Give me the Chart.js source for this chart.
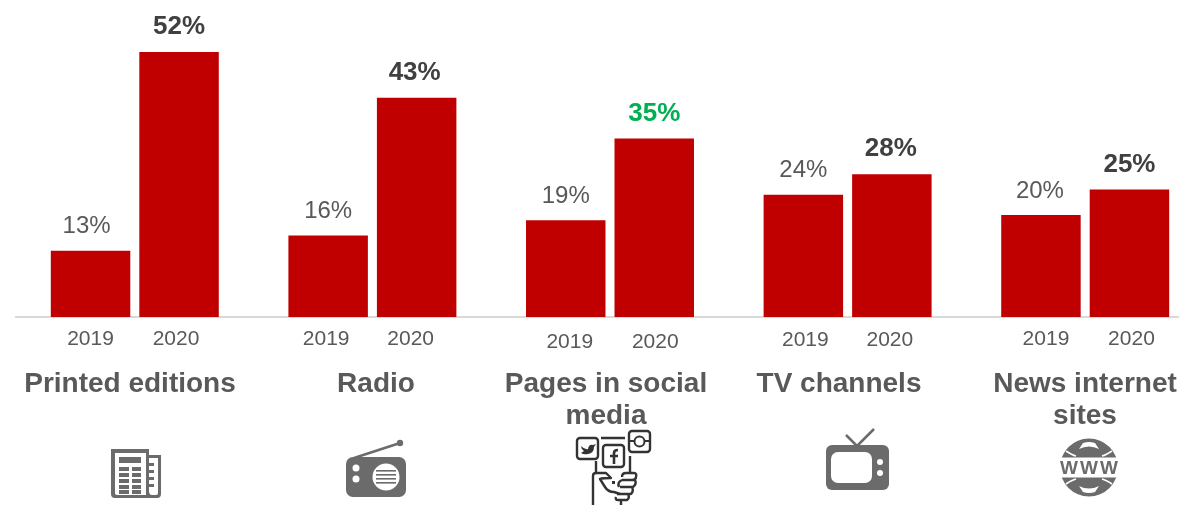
<!DOCTYPE html>
<html>
<head>
<meta charset="utf-8">
<script src="https://cdn.jsdelivr.net/npm/chart.js@4/dist/chart.umd.min.js"></script>
<style>
html, body { margin: 0; padding: 0; background: #fff; overflow: hidden; }
#wrap { width: 1179px; height: 509px; overflow: hidden; }
</style>
</head>
<body>
<div id="wrap"><canvas id="chart" width="1204" height="509"></canvas></div>
<script>
const categories = ['Printed editions', 'Radio', 'Pages in social media', 'TV channels', 'News internet sites'];
const years = ['2019', '2020'];
const values2019 = [13, 16, 19, 24, 20];
const values2020 = [52, 43, 35, 28, 25];

const BAR_RED = '#c00000';
const TEXT_GREY = '#595959';
const VALUE_DARK = '#404040';
const HIGHLIGHT_GREEN = '#00b050';
const ICON_GREY = '#6b6b6b';

// the source slide nudged its labels by hand, so keep the offsets per group
const yearLayout = [
    { dx: [0, -3], y: 339 },
    { dx: [-2, -6], y: 339 },
    { dx: [4, 1], y: 342 },
    { dx: [2, -2], y: 340 },
    { dx: [5, 2], y: 339 }
];
const categoryLayout = [
    { x: 130, lines: ['Printed editions'] },
    { x: 376, lines: ['Radio'] },
    { x: 606, lines: ['Pages in social', 'media'] },
    { x: 839, lines: ['TV channels'] },
    { x: 1085, lines: ['News internet', 'sites'] }
];
const value2019Dx = [-4, 0, 0, 0, -1];
const value2020Dx = [0, -2, 0, -1, 0];

function iconNewspaper(c) {
    c.fillStyle = ICON_GREY;
    c.fill(new Path2D('M111 449H149V455H161V494Q161 498 157 498H115Q111 498 111 494Z'));
    c.fillStyle = '#fff';
    c.fill(new Path2D('M115 453H146V495H117Q115 495 115 493Z'));
    c.fill(new Path2D('M149 458H158V493Q158 495 156 495H152Q149 495 149 491Z'));
    c.fillStyle = ICON_GREY;
    c.fillRect(119, 457, 22, 6);
    [467, 473, 479, 485, 490].forEach(function (y) {
        c.fillRect(119, y, 10, 4);
        c.fillRect(132, y, 9, 4);
    });
    [463, 470, 477, 484].forEach(function (y) {
        c.fillRect(149, y, 5, 3);
    });
}

function iconRadio(c) {
    c.fillStyle = ICON_GREY;
    c.beginPath();
    c.roundRect(346, 457, 60, 40, 7);
    c.fill();
    c.strokeStyle = ICON_GREY;
    c.lineWidth = 2.5;
    c.beginPath();
    c.moveTo(354, 458);
    c.lineTo(400, 443);
    c.stroke();
    c.beginPath();
    c.arc(400, 443, 3.2, 0, Math.PI * 2);
    c.fill();
    c.fillStyle = '#fff';
    [468, 479].forEach(function (y) {
        c.beginPath();
        c.arc(356, y, 3.5, 0, Math.PI * 2);
        c.fill();
    });
    c.beginPath();
    c.arc(386, 477, 13.5, 0, Math.PI * 2);
    c.fill();
    c.fillStyle = ICON_GREY;
    [470, 474, 478, 482].forEach(function (y) {
        c.fillRect(376, y, 20, 1.6);
    });
}

function iconSocial(c) {
    c.strokeStyle = '#333';
    c.fillStyle = '#333';
    c.lineWidth = 2.4;
    c.lineJoin = 'round';
    [[577, 438, 21, 21], [603, 445, 21, 22], [629, 431, 21, 21]].forEach(function (b) {
        c.beginPath();
        c.roundRect(b[0], b[1], b[2], b[3], 3);
        c.stroke();
    });
    c.stroke(new Path2D('M601 438H625 M596 461V472 M630 456V473'));
    // bird
    c.fill(new Path2D('M581 446Q585 450 588 449Q589 444 593 445L596 444L594 447Q594 453 588 454Q584 455 581 453L584 451Q581 449 581 446Z'));
    // f
    c.lineWidth = 2.6;
    c.stroke(new Path2D('M614 464V453Q614 450 618 450 M610 456H618'));
    // camera
    c.lineWidth = 2;
    c.beginPath();
    c.arc(639.5, 441.5, 5, 0, Math.PI * 2);
    c.stroke();
    c.stroke(new Path2D('M629 441H634 M645 441H650'));
    // hand holding the phone
    c.lineWidth = 2.4;
    c.stroke(new Path2D('M593 505V476Q593 473 596 473H606L611 478Q603 478 600 479L605 487Q608 492 614 492L620 494'));
    c.stroke(new Path2D('M622 477Q622 473 626 473H634Q637 473 636 477Q636 480 632 480H624 M622 480H635Q637 484 633 487H621 M620 487H632Q634 491 631 494H618 M617 494H628Q630 498 627 500H618Q615 500 616 497 M621 500V505 M619 487Q617 482 622 480'));
    c.fillRect(612, 481, 3, 3);
}

function iconTv(c) {
    c.fillStyle = ICON_GREY;
    c.beginPath();
    c.roundRect(826, 445, 63, 45, 6);
    c.fill();
    c.strokeStyle = ICON_GREY;
    c.lineWidth = 2.5;
    c.stroke(new Path2D('M857 446L846 435 M857 446L874 429'));
    c.fillStyle = '#fff';
    c.beginPath();
    c.roundRect(831, 452, 41, 31, 7);
    c.fill();
    [462, 473].forEach(function (y) {
        c.beginPath();
        c.arc(880, y, 3, 0, Math.PI * 2);
        c.fill();
    });
}

function iconGlobe(c) {
    const cx = 1089, cy = 467.5, r = 29;
    c.fillStyle = ICON_GREY;
    c.beginPath();
    c.arc(cx, cy, r, 0, Math.PI * 2);
    c.fill();
    c.fillStyle = '#fff';
    c.fillRect(cx - r - 1, cy - 10, 2 * r + 2, 20);
    c.fill(new Path2D('M1079 449Q1089 444 1099 449L1095 443Q1089 441 1083 443Z'));
    c.fill(new Path2D('M1079 486Q1089 491 1099 486L1095 492Q1089 494 1083 492Z'));
    c.strokeStyle = '#fff';
    c.lineWidth = 1.8;
    c.stroke(new Path2D('M1066 451Q1072 455 1076 456 M1112 451Q1106 455 1102 456 M1066 484Q1072 480 1076 479 M1112 484Q1106 480 1102 479'));
    c.fillStyle = ICON_GREY;
    c.font = 'bold 19px "Liberation Sans"';
    c.textAlign = 'center';
    c.textBaseline = 'middle';
    c.fillText('W', cx - 20, cy + 1);
    c.fillText('W', cx, cy + 1);
    c.fillText('W', cx + 20, cy + 1);
}

const slideText = {
    id: 'slideText',
    afterDatasetsDraw(chart) {
        const c = chart.ctx;
        c.save();
        c.textAlign = 'center';
        c.textBaseline = 'middle';

        [chart.getDatasetMeta(0), chart.getDatasetMeta(1)].forEach(function (meta, ds) {
            meta.data.forEach(function (bar, i) {
                // year under the bar
                c.font = '21px "Liberation Sans"';
                c.fillStyle = TEXT_GREY;
                c.fillText(years[ds], bar.x + yearLayout[i].dx[ds], yearLayout[i].y);
                // percent above the bar
                if (ds === 0) {
                    c.font = '24px "Liberation Sans"';
                    c.fillStyle = TEXT_GREY;
                    c.fillText(values2019[i] + '%', bar.x + value2019Dx[i], bar.y - 24);
                } else {
                    c.font = 'bold 26px "Liberation Sans"';
                    c.fillStyle = i === 2 ? HIGHLIGHT_GREEN : VALUE_DARK;
                    c.fillText(values2020[i] + '%', bar.x + value2020Dx[i], bar.y - 25);
                }
            });
        });

        c.font = 'bold 28px "Liberation Sans"';
        c.fillStyle = TEXT_GREY;
        categoryLayout.forEach(function (cat) {
            cat.lines.forEach(function (line, n) {
                c.fillText(line, cat.x, 384 + n * 32);
            });
        });
        c.restore();

        [iconNewspaper, iconRadio, iconSocial, iconTv, iconGlobe].forEach(function (draw) {
            c.save();
            draw(c);
            c.restore();
        });
    }
};

new Chart(document.getElementById('chart'), {
    type: 'bar',
    data: {
        labels: categories,
        datasets: [
            { label: years[0], data: values2019, backgroundColor: BAR_RED },
            { label: years[1], data: values2020, backgroundColor: BAR_RED }
        ]
    },
    options: {
        responsive: false,
        animation: false,
        layout: { padding: { left: 16, right: 0, top: 0, bottom: 184 } },
        categoryPercentage: 0.745,
        barPercentage: 0.898,
        plugins: { legend: { display: false }, tooltip: { enabled: false } },
        scales: {
            x: {
                grid: { display: false },
                ticks: { display: false },
                border: { color: '#d9d9d9', width: 2 }
            },
            y: { display: false, min: 0, max: 62.2, grid: { display: false } }
        }
    },
    plugins: [slideText]
});
</script>
</body>
</html>
